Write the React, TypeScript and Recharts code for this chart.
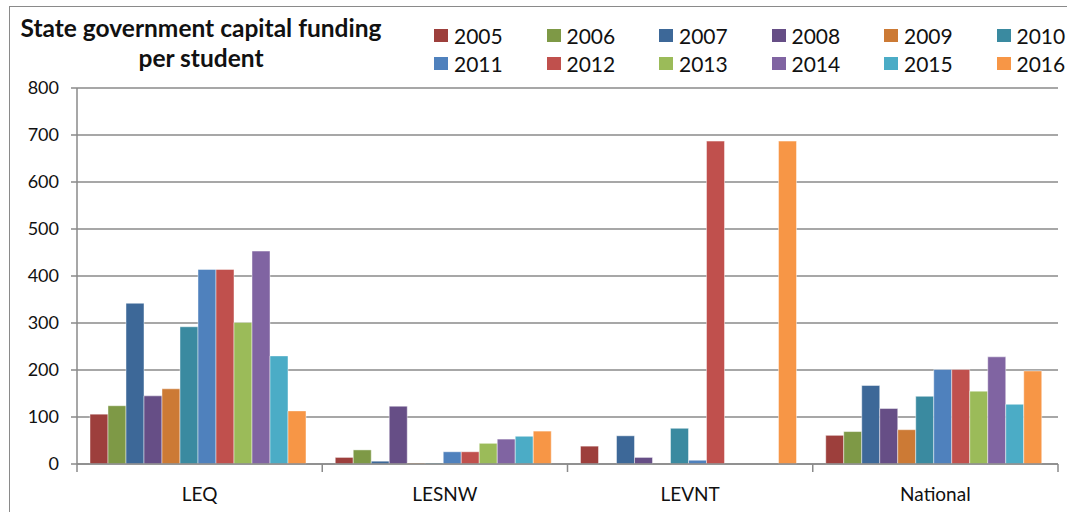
import React from 'react';
import { BarChart, Bar, XAxis, YAxis, CartesianGrid } from 'recharts';

const categories = ['LEQ', 'LESNW', 'LEVNT', 'National'];
const years = ['2005', '2006', '2007', '2008', '2009', '2010', '2011', '2012', '2013', '2014', '2015', '2016'];

// values per category, one per year (2005..2016)
const leq = [106, 124, 342, 145, 160, 292, 414, 414, 301, 453, 230, 113];
const lesnw = [14, 30, 6, 123, 2, 2, 26, 26, 44, 53, 59, 70];
const levnt = [38, 0, 60, 14, 0, 76, 8, 687, 0, 0, 0, 687];
const national = [61, 69, 167, 118, 73, 144, 201, 201, 155, 228, 127, 198];

const yTicks = [0, 100, 200, 300, 400, 500, 600, 700, 800];

const COLORS = [
  '#9D3F3C', '#7E9946', '#3D6898', '#664E86', '#CC7A35', '#3A8AA0',
  '#4F81BD', '#C0504D', '#9BBB59', '#8064A2', '#4BACC6', '#F79646'
];

const rows = [leq, lesnw, levnt, national];
const data = categories.map((name, i) => {
  const row: Record<string, any> = { name };
  years.forEach((y, j) => {
    row[y] = rows[i][j];
  });
  return row;
});

const FONT = 'Lato, "Open Sans", sans-serif';
const GRID = '#8a8a8a';

const W = 1067;
const H = 512;
const MARGIN = { top: 88, right: 9, bottom: 0, left: 17 };
const Y_AXIS_W = 60;
const PLOT_W = W - MARGIN.left - MARGIN.right - Y_AXIS_W;
const BAND = PLOT_W / categories.length;

const CategoryTick = (props: any) => {
  const { x, y, payload, index } = props;
  const last = index === categories.length - 1;
  return (
    <g>
      <line x1={x - BAND / 2} y1={y} x2={x - BAND / 2} y2={y + 8} stroke={GRID} strokeWidth={1.5} />
      {last && <line x1={x + BAND / 2} y1={y} x2={x + BAND / 2} y2={y + 8} stroke={GRID} strokeWidth={1.5} />}
      <text x={x} y={y + 37} textAnchor="middle" fontFamily={FONT} fontSize={19} fill="#111">
        {payload.value}
      </text>
    </g>
  );
};

const App: React.FC = () => {
  return (
    <div style={{ position: 'absolute', left: 0, top: 0, width: W, height: H, overflow: 'hidden', background: '#fff' }}>
      {/* outer frame */}
      <div style={{ position: 'absolute', left: 9, top: 6, width: W, height: H, borderLeft: '1.5px solid #8a8a8a', borderTop: '1.5px solid #8a8a8a' }} />

      {/* title */}
      <div style={{ position: 'absolute', left: 0, top: 13, width: 402, textAlign: 'center', fontFamily: FONT, fontWeight: 700, fontSize: 24.5, lineHeight: '30px', color: '#111' }}>
        State government capital funding
        <br />
        per student
      </div>

      {/* legend */}
      {years.map((y, i) => {
        const col = i % 6;
        const r = Math.floor(i / 6);
        return (
          <div key={y} style={{ position: 'absolute', left: 434 + col * 112.5, top: 22 + r * 28, height: 26, display: 'flex', alignItems: 'center', fontFamily: FONT, fontSize: 21, color: '#111' }}>
            <span style={{ display: 'inline-block', width: 14, height: 13, background: COLORS[i], marginRight: 6 }} />
            {y}
          </div>
        );
      })}

      <div style={{ position: 'absolute', left: 0, top: 0 }}>
        <BarChart width={W} height={H} data={data} margin={MARGIN} barCategoryGap="5.3%" barGap={0}>
          <CartesianGrid vertical={false} stroke={GRID} strokeWidth={1.5} />
          <XAxis
            dataKey="name"
            axisLine={{ stroke: GRID, strokeWidth: 1.5 }}
            tickLine={false}
            tickSize={0}
            tickMargin={0}
            tick={<CategoryTick />}
            interval={0}
            height={48}
          />
          <YAxis
            width={Y_AXIS_W}
            domain={[0, 800]}
            ticks={yTicks}
            interval={0}
            axisLine={{ stroke: GRID, strokeWidth: 1.5 }}
            tickLine={{ stroke: GRID, strokeWidth: 1.5 }}
            tickSize={6}
            tickMargin={12}
            tick={{ fontFamily: FONT, fontSize: 18, fill: '#111' }}
          />
          {years.map((y, i) => (
            <Bar
              key={y}
              dataKey={y}
              fill={COLORS[i]}
              stroke="#ffffff"
              strokeOpacity={0.45}
              strokeWidth={1}
              isAnimationActive={false}
            />
          ))}
        </BarChart>
      </div>
    </div>
  );
};

export default App;
